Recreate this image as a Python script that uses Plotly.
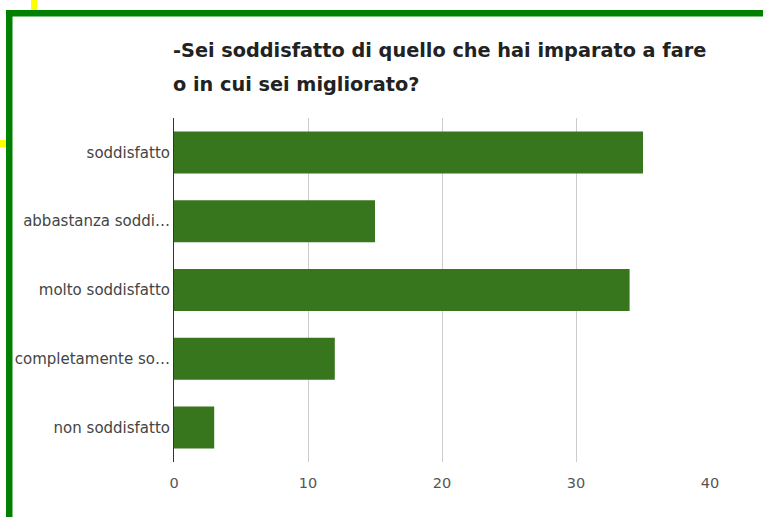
import plotly.graph_objects as go

# Survey answers and counts
categories = [
    "soddisfatto",
    "abbastanza soddi…",
    "molto soddisfatto",
    "completamente so…",
    "non soddisfatto",
]
counts = [35, 15, 34, 12, 3]
x_ticks = [0, 10, 20, 30, 40]
title_lines = [
    "-Sei soddisfatto di quello che hai imparato a fare",
    "o in cui sei migliorato?",
]

W, H = 763, 517
L, R, T, B = 174, 710, 118, 462  # plot area in pixels
FONT = "DejaVu Sans, Arial, sans-serif"


def px(x):
    return (x - L) / (R - L)


def py(y):
    return (B - y) / (B - T)


fig = go.Figure(
    go.Bar(
        x=counts,
        y=categories,
        orientation="h",
        marker=dict(color="#38761d", line=dict(width=0)),
        hoverinfo="x+y",
    )
)

fig.update_layout(
    width=W,
    height=H,
    margin=dict(l=L, r=W - R, t=T, b=H - B, pad=0),
    paper_bgcolor="white",
    plot_bgcolor="white",
    showlegend=False,
    bargap=0.39,
    font=dict(family=FONT, color="#444444", size=14),
)

fig.update_xaxes(
    range=[0, 40],
    tickvals=x_ticks,
    showgrid=True,
    gridcolor="#cccccc",
    gridwidth=1,
    zeroline=False,
    showline=False,
    ticks="",
    ticklabelstandoff=10,
    tickfont=dict(size=14.5, color="#555555"),
    fixedrange=True,
)
fig.update_yaxes(
    categoryorder="array",
    categoryarray=categories[::-1],
    showgrid=False,
    zeroline=False,
    showline=True,
    linecolor="#333333",
    linewidth=1,
    ticks="",
    ticklen=0,
    ticklabelstandoff=0,
    tickfont=dict(size=15, color="#444444"),
    fixedrange=True,
)

# Two-line heading
for i, line in enumerate(title_lines):
    fig.add_annotation(
        text=f"<b>{line}</b>",
        xref="paper",
        yref="paper",
        x=px(171),
        y=py(50 + 34 * i),
        xanchor="left",
        yanchor="middle",
        showarrow=False,
        font=dict(size=19.3, color="#222222", family=FONT),
    )

# Frame bands and corner marks
frame = [
    (6, 10, W + 5, 16.5, "#008000"),
    (6, 10, 12.5, H + 5, "#008000"),
    (31, -5, 37, 10, "#ffff00"),
    (-5, 140, 6, 147, "#ffff00"),
]
for x0, y0, x1, y1, c in frame:
    fig.add_shape(
        type="rect",
        xref="paper",
        yref="paper",
        x0=px(x0),
        x1=px(x1),
        y0=py(y0),
        y1=py(y1),
        fillcolor=c,
        line=dict(width=0),
        layer="above",
    )

fig.write_html("out.html", config={"displayModeBar": False})
